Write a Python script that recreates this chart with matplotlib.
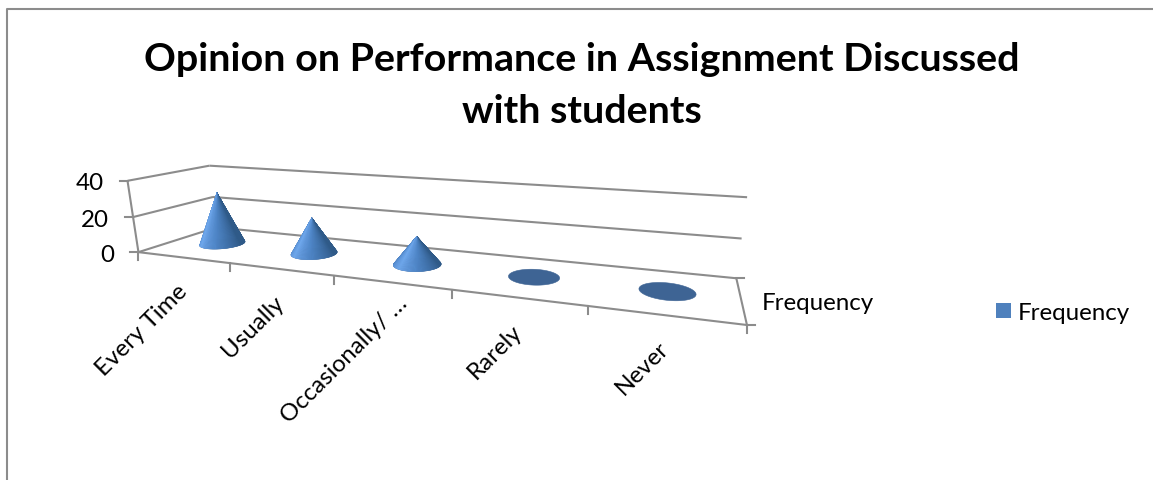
import numpy as np
import matplotlib
matplotlib.use("Agg")
import matplotlib.pyplot as plt
from matplotlib.collections import PolyCollection
from matplotlib.colors import LinearSegmentedColormap
from matplotlib.patches import Patch, Polygon

plt.rcParams["font.family"] = ["Lato", "DejaVu Sans"]

title = "Opinion on Performance in Assignment Discussed\nwith students"
categories = ["Every Time", "Usually", "Occasionally/ \u2026", "Rarely", "Never"]
frequency = [30, 20, 15, 0, 0]
y_ticks = [0, 20, 40]
series_name = "Frequency"

GRAY = "#8c8c8c"
LW = 1.5
FONT = 17.4

# where the corners of the 3d box land in the picture: (u, v, z) -> (x, y)
box_world = [(0, 0, 0), (5, 0, 0), (0, 1, 0), (5, 1, 0), (0, 0, 40), (0, 1, 40),
             (5, 1, 40), (0, 0, 20), (0, 1, 20), (5, 1, 20)]
box_pixel = [(138, 253), (747, 326), (217, 229), (736, 279), (128, 182), (209, 167),
             (747, 198), (133, 218), (213, 197), (742, 240)]


def fit_camera(world, pixel):
    rows = []
    for (u, v, z), (x, y) in zip(world, pixel):
        rows.append([u, v, z, 1, 0, 0, 0, 0, -x * u, -x * v, -x * z, -x])
        rows.append([0, 0, 0, 0, u, v, z, 1, -y * u, -y * v, -y * z, -y])
    _, _, vt = np.linalg.svd(np.array(rows, dtype=float))
    return vt[-1].reshape(3, 4)


CAM = fit_camera(box_world, box_pixel)


def project(u, v, z=0):
    p = CAM @ np.array([u, v, z, 1.0])
    return p[0] / p[2], p[1] / p[2]


def line3d(ax, a, b):
    xa, ya = project(*a)
    xb, yb = project(*b)
    ax.plot([xa, xb], [ya, yb], color=GRAY, lw=LW, solid_capstyle="butt")


def draw_walls(ax):
    for z in y_ticks:
        line3d(ax, (0, 0, z), (0, 1, z))
        line3d(ax, (0, 1, z), (5, 1, z))
        x, y = project(0, 0, z)
        ax.plot([x - 8, x], [y, y], color=GRAY, lw=LW)
        ax.text(x - 24, y + 2, str(z), ha="right", va="center", fontsize=FONT, color="black")
    line3d(ax, (0, 0, 0), (0, 0, 40))
    line3d(ax, (0, 0, 0), (5, 0, 0))
    line3d(ax, (5, 0, 0), (5, 1, 0))
    # ticks under the front edge
    for k in range(len(categories) + 1):
        x, y = project(k, 0)
        ax.plot([x, x], [y, y + 8], color=GRAY, lw=LW)
    x, y = project(5, 0)
    ax.plot([x, x + 8], [y, y], color=GRAY, lw=LW)
    x, y = project(5, 1)
    ax.plot([x, x + 8], [y, y], color=GRAY, lw=LW)


def draw_cone(ax, pos, value, cmap, ru=0.2, rv=0.2):
    cu, cv = pos + 0.5, 0.5
    angles = np.radians(np.arange(0, 360, 3))
    rim = [project(cu + ru * np.cos(a), cv + rv * np.sin(a)) for a in angles]
    ax.add_patch(Polygon(rim, closed=True, facecolor="#3e6494", edgecolor="#3e6494", lw=0.4, zorder=3))
    if value <= 0:
        return
    apex = project(cu, cv, value)
    order = sorted(range(len(angles)), key=lambda i: -np.sin(angles[i]))
    tris, colors = [], []
    for i in order:
        j = (i + 1) % len(angles)
        tris.append([apex, rim[i], rim[j]])
        deg = np.degrees(angles[i])
        s = (deg - 180) / 180 if deg >= 180 else (0.0 if deg > 90 else 1.0)
        colors.append(cmap(s))
    ax.add_collection(PolyCollection(tris, facecolors=colors, edgecolors=colors, linewidths=0.3, zorder=4))


def main():
    fig = plt.figure(figsize=(11.53, 4.81), dpi=100)
    ax = fig.add_axes([0, 0, 1, 1])
    ax.set_xlim(0, 1153)
    ax.set_ylim(481, 0)
    ax.axis("off")

    # chart area border, only top and left are inside the crop
    ax.plot([7, 7, 1153], [481, 10, 10], color=GRAY, lw=LW)

    ax.text(582, 85.5, title, ha="center", va="center", fontsize=28.4, fontweight="bold",
            color="black", linespacing=1.58)

    draw_walls(ax)

    cmap = LinearSegmentedColormap.from_list(
        "cone", [(0, "#4377b8"), (0.35, "#70a9ee"), (0.62, "#4f86c8"), (1, "#2f5a88")])
    for i, value in enumerate(frequency):
        draw_cone(ax, i, value, cmap)

    for i, name in enumerate(categories):
        x, y = project(i + 0.5, 0)
        # the long label sits further up its slant than the others
        nudge = 13 if name.endswith("\u2026") else 0
        ax.text(x - 7 + nudge, y + 22 - nudge, name, rotation=45, rotation_mode="anchor",
                ha="right", va="top", fontsize=FONT, color="black")

    ax.text(762, 303.5, series_name, ha="left", va="center", fontsize=FONT, color="black")

    ax.legend(handles=[Patch(facecolor="#4f81bd", edgecolor="none", label=series_name)],
              loc="center left", bbox_to_anchor=(996, 313.5), bbox_transform=ax.transData,
              frameon=False, fontsize=FONT, handlelength=0.62, handleheight=0.62,
              handletextpad=0.29, borderpad=0, borderaxespad=0)

    fig.savefig("out.png", dpi=100, facecolor="white")
    plt.close(fig)


if __name__ == "__main__":
    main()
